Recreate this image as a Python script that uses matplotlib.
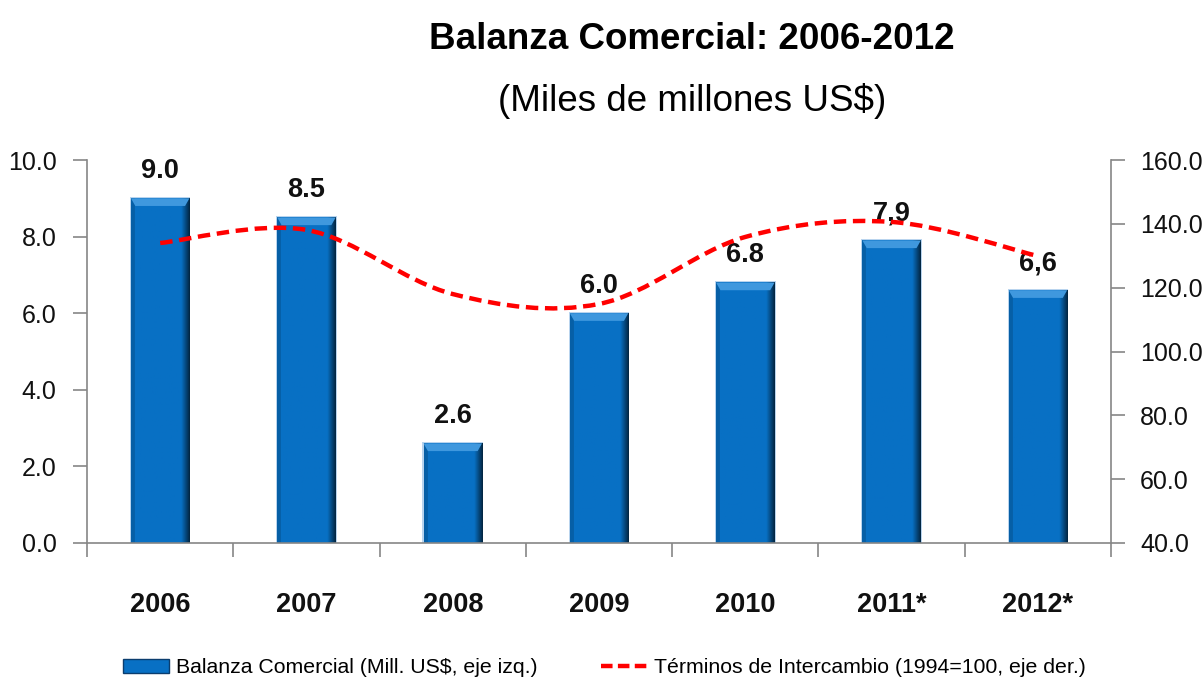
import numpy as np
import matplotlib
matplotlib.use("Agg")
import matplotlib.pyplot as plt
from matplotlib.path import Path
from matplotlib.patches import PathPatch, Patch, Polygon
from matplotlib.lines import Line2D
from matplotlib.colors import to_rgb

# data
years = ["2006", "2007", "2008", "2009", "2010", "2011*", "2012*"]
balanza = [9.0, 8.5, 2.6, 6.0, 6.8, 7.9, 6.6]
balanza_labels = ["9.0", "8.5", "2.6", "6.0", "6.8", "7,9", "6,6"]
terminos = [134.0, 138.1, 118.0, 114.9, 135.9, 140.6, 129.9]
left_ticks = [0, 2, 4, 6, 8, 10]
right_ticks = [40, 60, 80, 100, 120, 140, 160]

plt.rcParams["font.family"] = ["Liberation Sans", "DejaVu Sans"]

bar_blue = "#0870c4"
axis_gray = "#868686"
text_col = "#111111"

fig = plt.figure(figsize=(12.04, 6.85), dpi=100)
ax = fig.add_axes([0.0723, 0.2073, 0.8505, 0.5591])
ax2 = ax.twinx()

x = np.arange(len(years))
bar_w = 0.40

# horizontal shading for the bevelled bars
base = np.array(to_rgb(bar_blue))
cols = np.linspace(0, 1, 60)
shade = np.ones_like(cols)
shade[cols < 0.06] = 0.85
right_part = cols > 0.86
shade[right_part] = 1.0 - (cols[right_part] - 0.86) / 0.14 * 0.65
grad = np.clip(base[None, :] * shade[:, None], 0, 1)[None, :, :]

for xi, v, lab in zip(x, balanza, balanza_labels):
    x0, x1 = xi - bar_w / 2, xi + bar_w / 2
    ax.bar(xi, v + 0.03, width=bar_w + 0.014, color="#b9d4ee", zorder=1)
    ax.imshow(grad, extent=(x0, x1, 0, v), aspect="auto", zorder=2, interpolation="bilinear")
    t = 0.2
    d = 0.03
    ax.add_patch(Polygon([(x0, v), (x1, v), (x1 - d, v - t), (x0 + d, v - t)],
                         closed=True, facecolor="#3f98de", edgecolor="none", zorder=3))
    ax.annotate(lab, (xi, v), xytext=(0, 19.5), textcoords="offset points",
                ha="center", va="center", fontsize=19.5, fontweight="bold",
                color=text_col, zorder=5)

ax.set_xlim(-0.5, len(years) - 0.5)
ax.set_ylim(0, 10)
ax.set_yticks(left_ticks)
ax.set_yticklabels([f"{t:.1f}" for t in left_ticks])
ax.set_xticks(x)
ax.set_xticklabels(years, fontweight="bold")
ax.set_xticks(np.arange(len(years) + 1) - 0.5, minor=True)
ax.tick_params(axis="x", which="major", length=0, pad=35, labelsize=19.5, labelcolor=text_col)
ax.tick_params(axis="x", which="minor", length=10, width=1.2, color=axis_gray, direction="out")
ax.tick_params(axis="y", length=10, width=1.2, color=axis_gray, pad=12, labelsize=18, labelcolor=text_col)

# smoothed dashed line on the right axis
def smooth_path(xs, ys):
    n = len(xs)
    verts = [(xs[0], ys[0])]
    codes = [Path.MOVETO]
    for i in range(n - 1):
        p0 = (xs[i - 1], ys[i - 1]) if i > 0 else (xs[i], ys[i])
        p1 = (xs[i], ys[i])
        p2 = (xs[i + 1], ys[i + 1])
        p3 = (xs[i + 2], ys[i + 2]) if i + 2 < n else p2
        c1 = (p1[0] + (p2[0] - p0[0]) / 6, p1[1] + (p2[1] - p0[1]) / 6)
        c2 = (p2[0] - (p3[0] - p1[0]) / 6, p2[1] - (p3[1] - p1[1]) / 6)
        verts += [c1, c2, p2]
        codes += [Path.CURVE4] * 3
    return Path(verts, codes)

ax2.set_ylim(40, 160)
ax2.add_patch(PathPatch(smooth_path(x, terminos), fill=False, edgecolor="#ff0000",
                        linewidth=3.2, linestyle=(0, (2.8, 1.5)), capstyle="butt", zorder=4))
ax2.set_yticks(right_ticks)
ax2.set_yticklabels([f"{t:.1f}" for t in right_ticks])
ax2.tick_params(axis="y", length=10, width=1.2, color=axis_gray, pad=11, labelsize=18, labelcolor=text_col)

for a in (ax, ax2):
    a.spines["top"].set_visible(False)
    for s in a.spines.values():
        s.set_color(axis_gray)
        s.set_linewidth(1.2)
ax.spines["right"].set_visible(False)
ax2.spines["left"].set_visible(False)
ax2.spines["bottom"].set_visible(False)

fig.text(0.575, 0.942, "Balanza Comercial: 2006-2012", ha="center", va="center",
         fontsize=26.5, fontweight="bold", color="black")
fig.text(0.575, 0.852, "(Miles de millones US$)", ha="center", va="center",
         fontsize=26.5, color="black")

handles = [Patch(facecolor=bar_blue, edgecolor="#0b3d6e"),
           Line2D([0], [0], color="#ff0000", linewidth=3.2, linestyle=(0, (2.6, 1.2)))]
fig.legend(handles, ["Balanza Comercial (Mill. US$, eje izq.)",
                     "Términos de Intercambio (1994=100, eje der.)"],
           loc="center", bbox_to_anchor=(0.502, 0.025), ncol=2, frameon=False,
           fontsize=15.3, handlelength=2.2, handleheight=0.7, handletextpad=0.3,
           columnspacing=3.0)

fig.savefig("out.png", dpi=100)
